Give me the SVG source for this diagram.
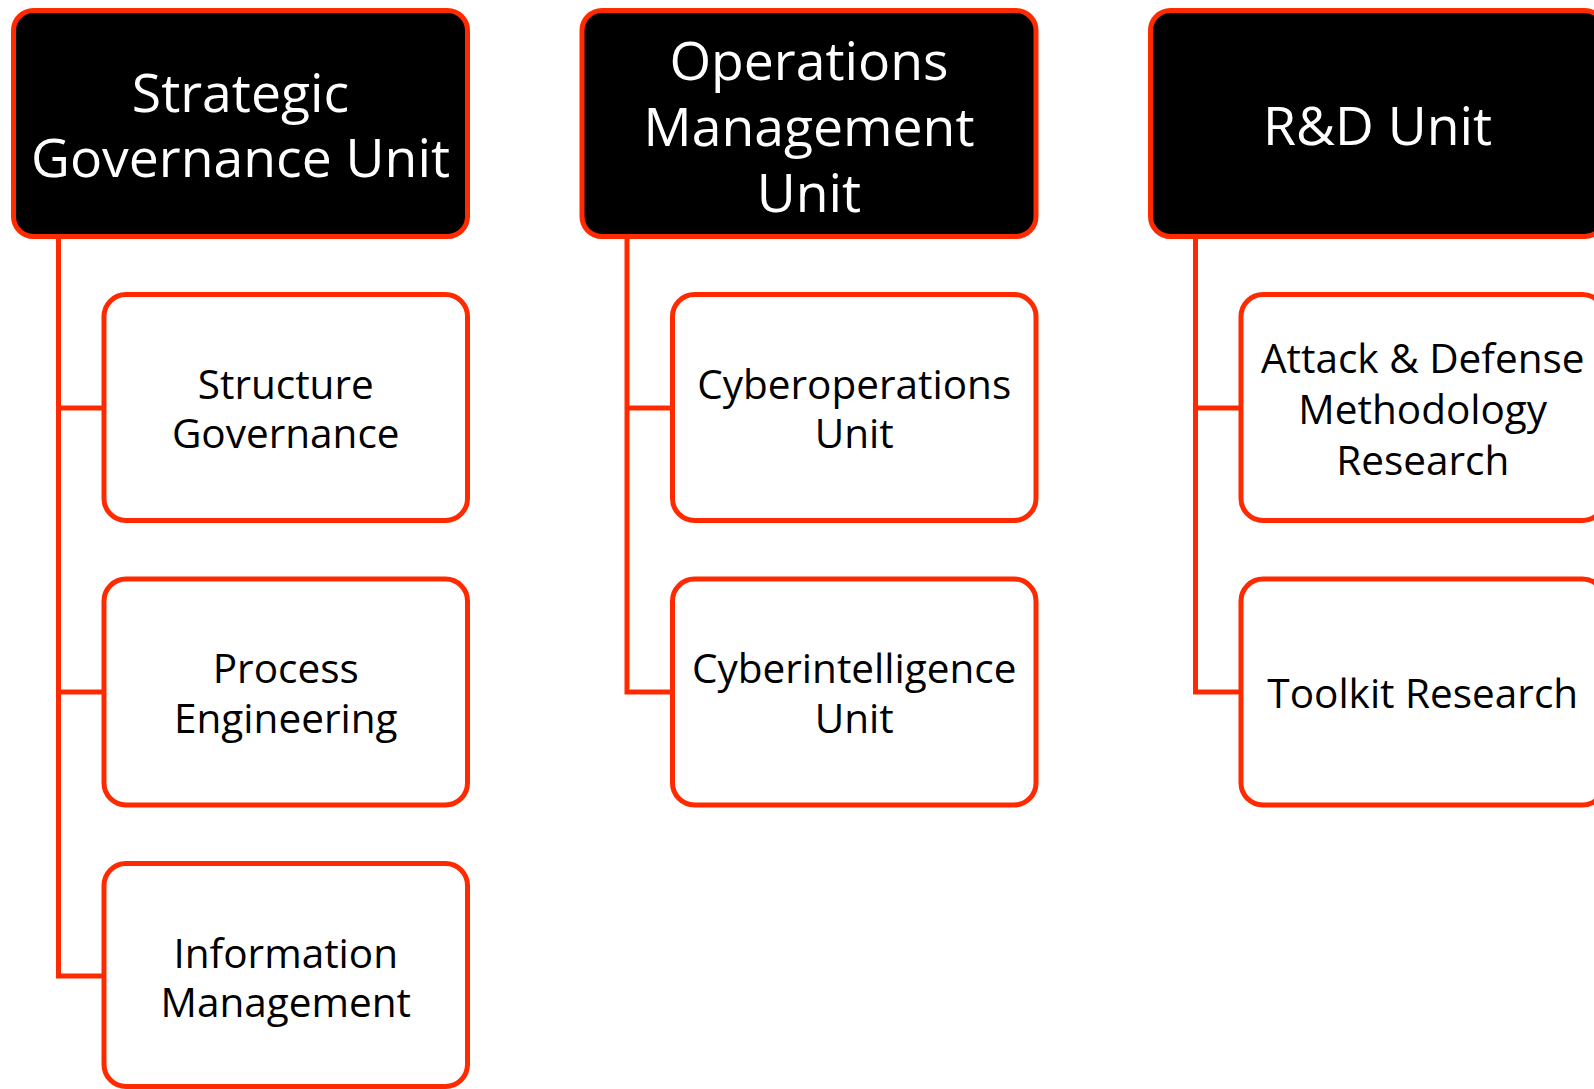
<svg xmlns="http://www.w3.org/2000/svg" width="1594" height="1089" viewBox="0 0 1594 1089">
  <style>
    .head { fill: #000000; stroke: #ff2a00; stroke-width: 5; }
    .child { fill: #ffffff; stroke: #ff2a00; stroke-width: 5; }
    .link { fill: none; stroke: #ff2a00; stroke-width: 5; stroke-linejoin: miter; stroke-linecap: butt; }
    .ht { font-family: "Open Sans", "Liberation Sans", sans-serif; font-size: 53.5px; fill: #ffffff; text-anchor: middle; }
    .ct { font-family: "Open Sans", "Liberation Sans", sans-serif; font-size: 40.5px; fill: #000000; text-anchor: middle; }
  </style>
  <rect width="1594" height="1089" fill="#ffffff"/>

  <!-- tree connectors: trunk from each unit header, branch to each sub-unit -->
  <g id="connectors">
    <path class="link" d="M58.5 236.5 V976 H104 M58.5 408 H104 M58.5 692 H104"/>
    <path class="link" d="M627 236.5 V692 H672.5 M627 408 H672.5"/>
    <path class="link" d="M1195.5 236.5 V692 H1241 M1195.5 408 H1241"/>
  </g>

  <!-- Strategic Governance column -->
  <g id="strategic-governance-unit">
    <rect class="head" x="13.5" y="10.5" width="454" height="226" rx="20"/>
    <text class="ht" x="240.5" y="112">Strategic</text>
    <text class="ht" x="240.5" y="177">Governance Unit</text>
  </g>
  <g id="structure-governance">
    <rect class="child" x="104" y="294.5" width="363.5" height="226" rx="22"/>
    <text class="ct" x="285.75" y="399.3">Structure</text>
    <text class="ct" x="285.75" y="448.3">Governance</text>
  </g>
  <g id="process-engineering">
    <rect class="child" x="104" y="579" width="363.5" height="226" rx="22"/>
    <text class="ct" x="285.75" y="683.3">Process</text>
    <text class="ct" x="285.75" y="732.7">Engineering</text>
  </g>
  <g id="information-management">
    <rect class="child" x="104" y="863.5" width="363.5" height="223" rx="22"/>
    <text class="ct" x="285.75" y="967.5">Information</text>
    <text class="ct" x="285.75" y="1016.5">Management</text>
  </g>

  <!-- Operations Management column -->
  <g id="operations-management-unit">
    <rect class="head" x="582" y="10.5" width="454" height="226" rx="20"/>
    <text class="ht" x="809" y="80">Operations</text>
    <text class="ht" x="809" y="146">Management</text>
    <text class="ht" x="809" y="212">Unit</text>
  </g>
  <g id="cyberoperations-unit">
    <rect class="child" x="672.5" y="294.5" width="363.5" height="226" rx="22"/>
    <text class="ct" x="854.25" y="399.3">Cyberoperations</text>
    <text class="ct" x="854.25" y="448.3">Unit</text>
  </g>
  <g id="cyberintelligence-unit">
    <rect class="child" x="672.5" y="579" width="363.5" height="226" rx="22"/>
    <text class="ct" x="854.25" y="683.3">Cyberintelligence</text>
    <text class="ct" x="854.25" y="732.7">Unit</text>
  </g>

  <!-- R&D column -->
  <g id="rd-unit">
    <rect class="head" x="1150.5" y="10.5" width="454" height="226" rx="20"/>
    <text class="ht" x="1377.5" y="145">R&amp;D Unit</text>
  </g>
  <g id="attack-defense-methodology-research">
    <rect class="child" x="1241" y="294.5" width="363.5" height="226" rx="22"/>
    <text class="ct" x="1422.75" y="373.3">Attack &amp; Defense</text>
    <text class="ct" x="1422.75" y="423.5">Methodology</text>
    <text class="ct" x="1422.75" y="474.5">Research</text>
  </g>
  <g id="toolkit-research">
    <rect class="child" x="1241" y="579" width="363.5" height="226" rx="22"/>
    <text class="ct" x="1422.75" y="708.3">Toolkit Research</text>
  </g>
</svg>
